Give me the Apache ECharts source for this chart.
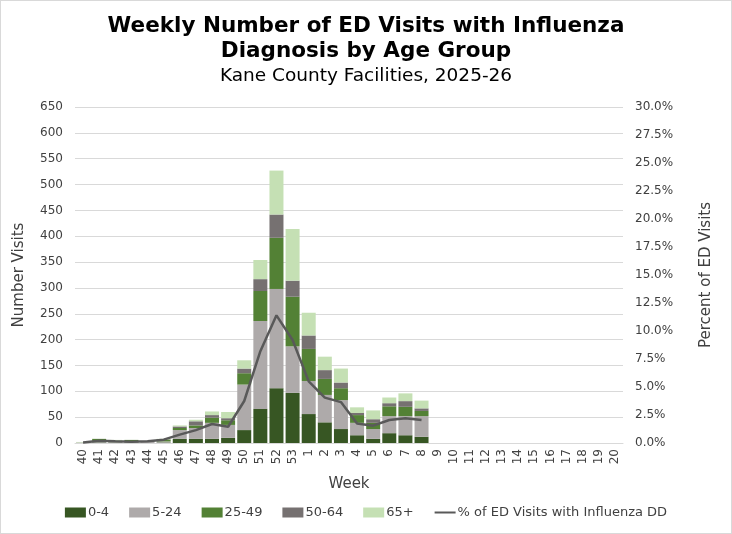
<!DOCTYPE html>
<html>
<head>
<meta charset="utf-8">
<script src="https://cdn.jsdelivr.net/npm/echarts@6/dist/echarts.min.js"></script>
<style>
html,body{margin:0;padding:0;background:#fff;}
#c{width:730px;height:532px;border:1px solid #d9d9d9;}
</style>
</head>
<body>
<div id="c"></div>
<script>
const weeks = ['40','41','42','43','44','45','46','47','48','49','50','51','52','53','1','2','3','4','5','6','7','8','9','10','11','12','13','14','15','16','17','18','19','20'];
const age0_4   = [0,1,1,1,0,1,8,8,8,10,25,66,106,97,56,40,27,15,8,19,15,12];
const age5_24  = [1,3,2,2,2,2,17,21,31,25,88,170,192,90,64,53,56,24,19,33,37,40];
const age25_49 = [0,4,1,3,1,4,4,5,10,9,22,58,99,96,62,31,23,15,12,19,18,10];
const age50_64 = [0,0,0,0,0,0,3,8,5,4,9,23,45,31,26,17,11,4,7,6,11,5];
const age65p   = [1,0,2,0,1,1,2,3,7,12,16,37,85,100,44,26,27,11,17,11,15,15];
const pctFlu   = [0.05,0.2,0.15,0.12,0.15,0.3,0.75,1.15,1.7,1.45,3.75,8.2,11.4,9.2,5.5,4.05,3.65,1.75,1.55,2.05,2.2,2.05];

const FONT = 'DejaVu Sans';
const TXT = '#404040';
const chart = echarts.init(document.getElementById('c'));

function barSeries(name, data, color){
  return {name, type:'bar', stack:'age', data, barWidth:14, itemStyle:{color}, yAxisIndex:0};
}

chart.setOption({
  animation:false,
  textStyle:{fontFamily:FONT},
  title:[
    {text:'Weekly Number of ED Visits with Influenza\nDiagnosis by Age Group', left:'center', top:8,
     textStyle:{fontFamily:FONT, fontSize:21.5, fontWeight:'bold', color:'#000', lineHeight:25}},
    {text:'Kane County Facilities, 2025-26', left:'center', top:61,
     textStyle:{fontFamily:FONT, fontSize:18.5, fontWeight:'normal', color:'#000'}}
  ],
  grid:{left:74, right:108, top:106, bottom:90},
  legend:{
    bottom:9, left:'center', itemWidth:21, itemHeight:10, itemGap:20,
    textStyle:{fontFamily:FONT, fontSize:13, color:TXT, padding:[0,0,0,-3]},
    data:[
      {name:'0-4', icon:'rect'},{name:'5-24', icon:'rect'},{name:'25-49', icon:'rect'},
      {name:'50-64', icon:'rect'},{name:'65+', icon:'rect'},
      {name:'% of ED Visits with Influenza DD', itemStyle:{opacity:0}}
    ]
  },
  xAxis:{
    type:'category', data:weeks, name:'Week', nameLocation:'middle', nameGap:34,
    nameTextStyle:{fontFamily:FONT, fontSize:15, color:TXT},
    axisLine:{lineStyle:{color:'#d9d9d9'}}, axisTick:{show:false},
    axisLabel:{rotate:90, interval:0, fontFamily:FONT, fontSize:12, color:TXT, margin:6}
  },
  yAxis:[
    {type:'value', min:0, max:650, interval:50, name:'Number Visits', nameLocation:'middle', nameGap:48,
     nameTextStyle:{fontFamily:FONT, fontSize:15, color:TXT},
     axisLabel:{fontFamily:FONT, fontSize:12, color:TXT, margin:12},
     splitLine:{lineStyle:{color:'#d9d9d9'}}, axisLine:{show:false}, axisTick:{show:false}},
    {type:'value', min:0, max:30, interval:2.5, name:'Percent of ED Visits', nameLocation:'middle', nameGap:76,
     nameRotate:90,
     nameTextStyle:{fontFamily:FONT, fontSize:15, color:TXT},
     axisLabel:{fontFamily:FONT, fontSize:12, color:TXT, margin:12, formatter:v=>v.toFixed(1)+'%'},
     splitLine:{show:false}, axisLine:{show:false}, axisTick:{show:false}}
  ],
  series:[
    barSeries('0-4', age0_4, '#375623'),
    barSeries('5-24', age5_24, '#AEAAAA'),
    barSeries('25-49', age25_49, '#538135'),
    barSeries('50-64', age50_64, '#767171'),
    barSeries('65+', age65p, '#C5E0B4'),
    {name:'% of ED Visits with Influenza DD', type:'line', yAxisIndex:1, data:pctFlu,
     symbol:'none', lineStyle:{color:'#595959', width:2.5}, itemStyle:{color:'#595959'}}
  ]
});
</script>
</body>
</html>
